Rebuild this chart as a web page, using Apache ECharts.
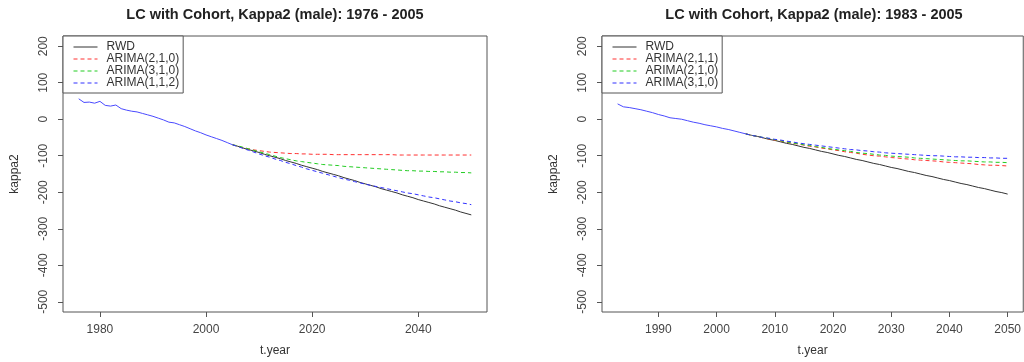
<!DOCTYPE html>
<html>
<head>
<meta charset="utf-8">
<script src="https://cdn.jsdelivr.net/npm/echarts@6/dist/echarts.min.js"></script>
<style>
html,body{margin:0;padding:0;background:#fff;}
#c1,#c2{position:absolute;top:0;width:512px;height:362px;}
#c1{left:0;} #c2{left:512px;}
</style>
</head>
<body>
<div id="c1"></div>
<div id="c2"></div>
<script>
// ---------- Left panel: fit 1976-2005 ----------
var L_histStart = 1976;
var L_hist = [56, 46, 47, 44, 49, 38, 36, 39, 29, 25, 22, 20, 16, 12, 8, 3, -2, -8, -10, -15, -20, -26, -32, -37, -43, -48, -53, -58, -64, -70];
var L_fcStart = 2005;
var L_rwd = [-70, -74, -79, -83, -87, -91, -96, -100, -104, -108, -113, -117, -121, -126, -130, -134, -138, -143, -147, -151, -155, -160, -164, -168, -173, -177, -181, -185, -190, -194, -198, -202, -207, -211, -215, -220, -224, -228, -232, -237, -241, -245, -249, -254, -258, -262];
var L_a210 = [-70, -74, -78, -81, -84, -86, -88, -90, -91, -92, -93, -94, -94, -95, -95, -96, -96, -96, -96, -97, -97, -97, -97, -97, -97, -97, -97, -97, -97, -97, -97, -98, -98, -98, -98, -98, -98, -98, -98, -98, -98, -98, -98, -98, -98, -98];
var L_a310 = [-70, -73, -77, -81, -85, -89, -93, -97, -101, -105, -108, -111, -114, -116, -118, -120, -122, -124, -125, -126, -127, -129, -130, -131, -132, -133, -134, -135, -136, -137, -138, -139, -140, -141, -141, -142, -142, -143, -143, -144, -144, -145, -145, -146, -146, -147];
var L_a112 = [-70, -75, -80, -85, -90, -95, -100, -104, -109, -113, -118, -122, -127, -131, -136, -140, -144, -148, -152, -156, -160, -164, -167, -171, -174, -178, -181, -184, -187, -190, -193, -196, -199, -202, -204, -207, -210, -213, -215, -218, -221, -224, -226, -229, -231, -234];
var L_xTicks = [1980, 2000, 2020, 2040];
var L_names = ['RWD', 'ARIMA(2,1,0)', 'ARIMA(3,1,0)', 'ARIMA(1,1,2)'];
var L_title = 'LC with Cohort, Kappa2 (male): 1976 - 2005';

// ---------- Right panel: fit 1983-2005 ----------
var R_histStart = 1983;
var R_hist = [42, 34, 32, 29, 26, 22, 18, 13, 9, 4, 2, 0, -4, -8, -11, -15, -18, -21, -25, -28, -32, -36, -40];
var R_fcStart = 2005;
var R_rwd = [-40, -44, -47, -51, -55, -58, -62, -66, -69, -73, -77, -80, -84, -88, -91, -95, -99, -102, -106, -110, -113, -117, -121, -124, -128, -132, -135, -139, -143, -146, -150, -154, -157, -161, -165, -168, -172, -176, -179, -183, -187, -190, -194, -198, -201, -205];
var R_a211 = [-40, -44, -47, -51, -54, -57, -60, -63, -66, -68, -71, -74, -76, -79, -81, -84, -86, -89, -91, -93, -96, -98, -100, -101, -103, -105, -106, -108, -109, -111, -112, -113, -114, -115, -117, -118, -119, -120, -121, -122, -124, -125, -126, -126, -127, -128];
var R_a210 = [-40, -44, -47, -50, -53, -56, -59, -62, -65, -67, -70, -72, -75, -77, -80, -82, -84, -86, -88, -91, -93, -94, -96, -98, -99, -101, -102, -103, -104, -106, -107, -108, -109, -110, -111, -112, -113, -114, -114, -115, -116, -117, -117, -118, -118, -119];
var R_a310 = [-40, -44, -47, -50, -52, -55, -57, -60, -62, -65, -67, -69, -71, -73, -75, -77, -79, -81, -83, -84, -86, -87, -89, -90, -92, -93, -94, -95, -96, -97, -98, -99, -100, -100, -101, -102, -103, -103, -104, -104, -105, -105, -106, -106, -107, -107];
var R_xTicks = [1990, 2000, 2010, 2020, 2030, 2040, 2050];
var R_names = ['RWD', 'ARIMA(2,1,1)', 'ARIMA(2,1,0)', 'ARIMA(3,1,0)'];
var R_title = 'LC with Cohort, Kappa2 (male): 1983 - 2005';

var yTicks = [-500, -400, -300, -200, -100, 0, 100, 200];
var colors = ['#333333', '#ff3030', '#22cc22', '#3030ff'];
var FONT = "'Liberation Sans', Arial, sans-serif";

function pairs(start, arr) {
  var out = [];
  for (var i = 0; i < arr.length; i++) out.push([start + i, arr[i]]);
  return out;
}

function build(cfg) {
  var series = [];
  var fcs = cfg.fc;
  for (var k = 0; k < fcs.length; k++) {
    series.push({
      name: cfg.names[k], type: 'line', symbol: 'none', silent: true,
      data: pairs(cfg.fcStart, fcs[k]),
      lineStyle: { color: colors[k], width: 1, type: k === 0 ? 'solid' : [4, 3] },
      itemStyle: { color: colors[k] },
      animation: false
    });
  }
  series.push({
    name: 'observed', type: 'line', symbol: 'none', silent: true,
    data: pairs(cfg.histStart, cfg.hist),
    lineStyle: { color: '#4a4aff', width: 1 },
    itemStyle: { color: '#4a4aff' },
    animation: false
  });
  var axisColor = '#555';
  return {
    animation: false,
    graphic: [{
      type: 'text',
      x: cfg.gridLeft + 212, y: 15,
      style: { text: cfg.title, font: 'bold 14.5px ' + FONT, fill: '#222', textAlign: 'center', textVerticalAlign: 'middle' }
    }],
    legend: {
      orient: 'vertical', left: cfg.gridLeft, top: 36,
      data: cfg.names,
      backgroundColor: '#fff', borderColor: axisColor, borderWidth: 1, borderRadius: 0,
      padding: [5, 4, 4, 10], itemGap: 0, itemWidth: 24, itemHeight: 11,
      selectedMode: false,
      itemStyle: { opacity: 0 },
      lineStyle: { width: 1 },
      textStyle: { fontFamily: FONT, fontSize: 12, color: '#333', lineHeight: 11, padding: [0, 0, 0, 4] }
    },
    grid: {
      left: cfg.gridLeft, top: 36, width: 424, height: 278,
      show: true, borderColor: axisColor, borderWidth: 1, backgroundColor: 'transparent'
    },
    xAxis: {
      type: 'value', min: cfg.xMin, max: cfg.xMax,
      name: 't.year', nameLocation: 'middle', nameGap: 33,
      nameTextStyle: { fontFamily: FONT, fontSize: 12, color: '#333' },
      axisLine: { show: false, onZero: false },
      splitLine: { show: false },
      axisTick: { show: true, length: 5, lineStyle: { color: axisColor }, customValues: cfg.xTicks },
      axisLabel: { customValues: cfg.xTicks, margin: 12, fontFamily: FONT, fontSize: 12, color: '#444',
        formatter: function (v) { return String(v); } }
    },
    yAxis: {
      type: 'value', min: -528, max: 228,
      name: 'kappa2', nameLocation: 'middle', nameGap: 42,
      nameTextStyle: { fontFamily: FONT, fontSize: 12, color: '#333' },
      axisLine: { show: false, onZero: false },
      splitLine: { show: false },
      axisTick: { show: true, length: 5, lineStyle: { color: axisColor }, customValues: yTicks },
      axisLabel: { customValues: yTicks, rotate: 90, margin: 13, fontFamily: FONT, fontSize: 12, color: '#444',
        formatter: function (v) { return String(v); } }
    },
    series: series
  };
}

var c1 = echarts.init(document.getElementById('c1'), null, { renderer: 'canvas' });
c1.setOption(build({
  title: L_title, names: L_names, gridLeft: 63,
  xMin: 1973.04, xMax: 2052.96, xTicks: L_xTicks,
  fcStart: L_fcStart, fc: [L_rwd, L_a210, L_a310, L_a112],
  histStart: L_histStart, hist: L_hist
}));

var c2 = echarts.init(document.getElementById('c2'), null, { renderer: 'canvas' });
c2.setOption(build({
  title: R_title, names: R_names, gridLeft: 90,
  xMin: 1980.32, xMax: 2052.68, xTicks: R_xTicks,
  fcStart: R_fcStart, fc: [R_rwd, R_a211, R_a210, R_a310],
  histStart: R_histStart, hist: R_hist
}));
</script>
</body>
</html>
